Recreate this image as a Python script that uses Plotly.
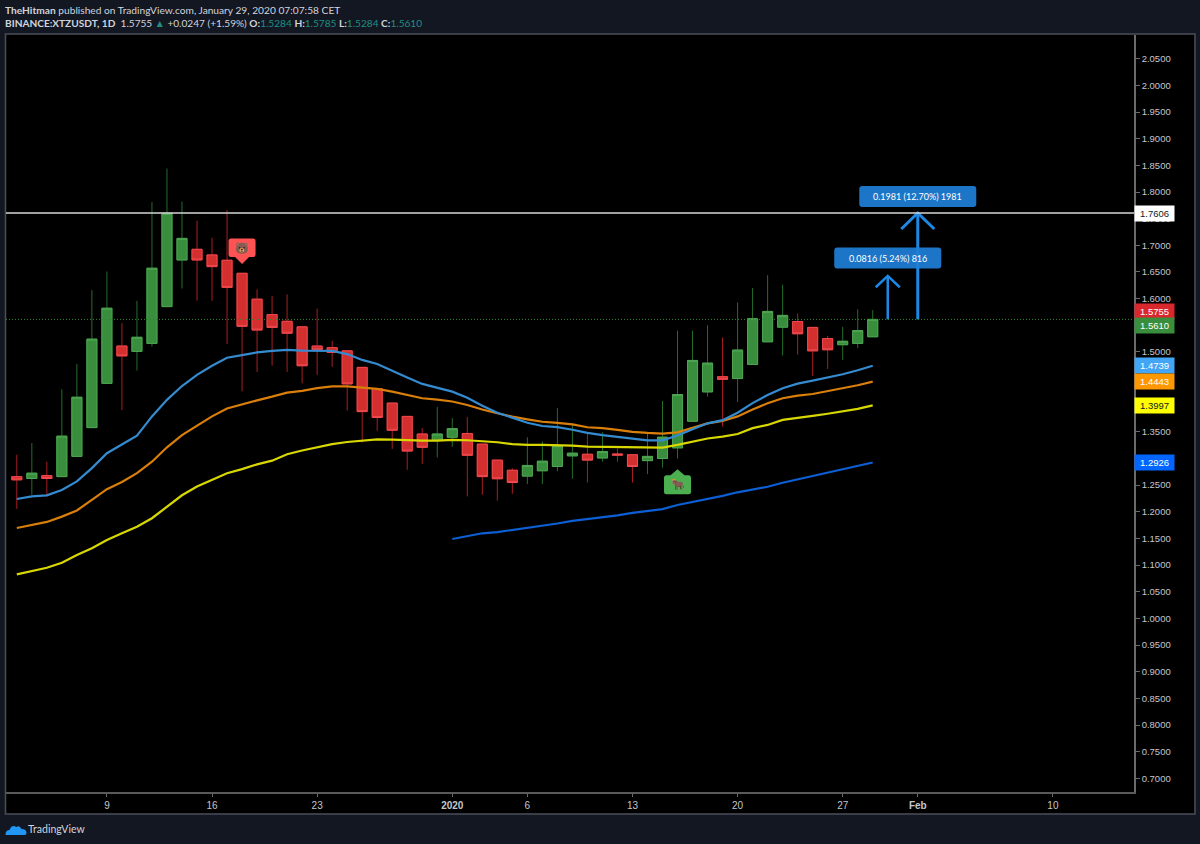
import numpy as np
import pandas as pd
import plotly.graph_objects as go

dates = pd.date_range("2019-12-03", periods=58)

opens = [1.266,1.2625,1.268,1.266,1.304,1.358,1.441,1.511,1.501,1.516,1.585,1.6725,1.6925,1.682,1.672,1.6475,1.599,1.57,1.5575,
         1.547,1.511,1.508,1.502,1.471,1.431,1.404,1.379,1.346,1.334,1.34,1.347,1.327,1.297,1.278,1.267,1.277,1.285,1.305,
         1.308,1.301,1.3085,1.307,1.296,1.30,1.32,1.37,1.425,1.4535,1.45,1.4765,1.519,1.5465,1.557,1.546,1.525,1.5135,1.516,1.5284]
highs = [1.307,1.329,1.294,1.43,1.4775,1.616,1.651,1.554,1.596,1.781,1.844,1.782,1.746,1.714,1.766,1.6475,1.6175,1.605,1.608,
         1.549,1.581,1.521,1.502,1.471,1.431,1.404,1.379,1.357,1.397,1.376,1.378,1.327,1.297,1.282,1.34,1.332,1.395,1.366,
         1.349,1.349,1.319,1.307,1.347,1.408,1.54,1.54,1.55,1.527,1.593,1.62,1.644,1.626,1.572,1.546,1.53,1.547,1.58,1.5785]
lows = [1.2056,1.232,1.229,1.266,1.304,1.358,1.441,1.391,1.465,1.51,1.585,1.619,1.596,1.596,1.515,1.426,1.4625,1.474,1.4625,
        1.441,1.457,1.472,1.39,1.33,1.352,1.318,1.279,1.29,1.302,1.322,1.229,1.232,1.221,1.234,1.252,1.252,1.276,1.262,
        1.255,1.294,1.294,1.255,1.271,1.283,1.30,1.37,1.416,1.36,1.406,1.4765,1.518,1.4935,1.495,1.455,1.468,1.485,1.507,1.5284]
closes = [1.26,1.2725,1.2625,1.342,1.415,1.524,1.582,1.4925,1.5275,1.657,1.76,1.713,1.6725,1.66,1.621,1.548,1.541,1.546,1.535,
          1.474,1.504,1.499,1.44,1.388,1.377,1.353,1.314,1.321,1.346,1.356,1.306,1.266,1.262,1.255,1.287,1.295,1.324,1.31,
          1.297,1.313,1.3065,1.285,1.304,1.34,1.42,1.484,1.479,1.4485,1.5035,1.5624,1.576,1.5685,1.534,1.502,1.504,1.52,1.54,1.561]

ema_blue = [1.224,1.229,1.231,1.241,1.257,1.282,1.31,1.326,1.343,1.379,1.41,1.436,1.457,1.474,1.489,1.494,1.499,1.502,1.504,
            1.5024,1.502,1.502,1.496,1.485,1.4774,1.464,1.452,1.44,1.433,1.4255,1.414,1.399,1.386,1.377,1.367,1.361,1.359,1.354,
            1.348,1.344,1.341,1.337,1.334,1.334,1.343,1.355,1.366,1.372,1.386,1.404,1.419,1.432,1.4405,1.446,1.452,1.458,1.4655,1.4739]
ema_orange = [1.1696,1.175,1.181,1.191,1.2025,1.2225,1.2425,1.256,1.2725,1.294,1.321,1.344,1.362,1.379,1.394,1.402,1.409,1.416,1.4237,
              1.427,1.432,1.4355,1.4355,1.433,1.4305,1.4255,1.419,1.413,1.4105,1.407,1.4005,1.392,1.385,1.3785,1.3735,1.369,1.367,1.364,
              1.3586,1.357,1.3536,1.35,1.348,1.3468,1.349,1.358,1.366,1.3705,1.379,1.392,1.4036,1.413,1.418,1.421,1.426,1.432,1.4374,1.4443]
ema_yellow = [1.0827,1.089,1.095,1.1045,1.119,1.1315,1.147,1.1597,1.172,1.188,1.21,1.231,1.2475,1.26,1.2725,1.28,1.289,1.296,1.308,
              1.315,1.3205,1.327,1.331,1.333,1.336,1.3355,1.334,1.3336,1.3336,1.335,1.3343,1.333,1.3305,1.327,1.3255,1.3255,1.325,1.3243,
              1.3224,1.3218,1.321,1.3205,1.3205,1.3205,1.3255,1.332,1.3375,1.341,1.346,1.357,1.363,1.3724,1.3755,1.38,1.384,1.388,1.393,1.3997]
ema_deep = [1.149,1.1546,1.1597,1.162,1.166,1.169,1.174,1.178,1.183,1.186,1.189,1.1934,1.198,1.2015,1.205,
            1.2127,1.218,1.224,1.23,1.2366,1.242,1.247,1.2546,1.261,1.267,1.2728,1.28,1.2865,1.2926]

tick_dates = ["2019-12-09","2019-12-16","2019-12-23","2020-01-01","2020-01-06","2020-01-13","2020-01-20","2020-01-27","2020-02-01","2020-02-10"]
tick_text = ["9","16","23","<b>2020</b>","6","13","20","27","<b>Feb</b>","10"]
# y ticks; those that the value tags cover in the reference are left out
price_ticks = [2.05,2.0,1.95,1.9,1.85,1.8,1.75,1.7,1.65,1.6,1.5,1.35,1.25,1.2,1.15,1.1,1.05,1.0,0.95,0.9,0.85,0.8,0.75,0.7]

resistance = 1.7606
last_close = 1.5610
axis_labels = [1.7606, 1.5755, 1.5610, 1.4739, 1.4443, 1.3997, 1.2926]
axis_label_bg = ["#ffffff", "#d9272e", "#388e3c", "#42a5f5", "#ff9800", "#ffff00", "#0066ff"]
axis_label_fg = ["#131722", "#ffffff", "#ffffff", "#ffffff", "#ffffff", "#131722", "#ffffff"]
axis_label_shift = [0, 0, -6, 0, 0, 0, 0]

arrow_dates = ["2020-01-30", "2020-02-01"]
arrow_tips = [1.6426, 1.7606]
arrow_text = ["0.0816 (5.24%) 816", "0.1981 (12.70%) 1981"]
arrow_label_y = [1.6762, 1.7916]

W, H = 1200, 844
L, R, T, B = 5.5, 1134, 35, 792
pw, ph = R - L, B - T
def px(v): return (v - L) / pw
def py(v): return (B - v) / ph

FONT = "Lato, Noto Sans, sans-serif"
AXF = "Liberation Sans, sans-serif"

fig = go.Figure()

# moving averages, below the candles
for vals, col, d in [(ema_yellow, "#d8d800", dates), (ema_orange, "#d97f0a", dates),
                     (ema_blue, "#358bd0", dates), (ema_deep, "#0c5fd4", dates[29:])]:
    fig.add_trace(go.Scatter(x=d, y=vals, mode="lines", line=dict(color=col, width=2.2), hoverinfo="skip"))

# wicks
fig.add_trace(go.Candlestick(x=dates, open=opens, high=highs, low=lows, close=closes,
    increasing=dict(line=dict(color="#256d2a", width=1), fillcolor="#388e3c"),
    decreasing=dict(line=dict(color="#a81e22", width=1), fillcolor="#d32f2f"),
    whiskerwidth=0, hoverinfo="skip"))
# bodies with lighter border
top = np.maximum(opens, closes)
bot = np.minimum(opens, closes)
fig.add_trace(go.Candlestick(x=dates, open=opens, high=top, low=bot, close=closes,
    increasing=dict(line=dict(color="#4fa553", width=1), fillcolor="#388e3c"),
    decreasing=dict(line=dict(color="#ee4a4f", width=1), fillcolor="#d32f2f"),
    hoverinfo="skip"))

# arrows
for i, (d, tip) in enumerate(zip(arrow_dates, arrow_tips)):
    t = pd.Timestamp(d)
    hw = pd.Timedelta(days=[0.8, 1.1][i])
    drop = [0.0213, 0.03][i]
    w = [2.5, 3][i]
    fig.add_trace(go.Scatter(x=[t, t], y=[last_close, tip], mode="lines",
                             line=dict(color="#1e88e5", width=w), hoverinfo="skip"))
    fig.add_trace(go.Scatter(x=[t - hw, t, t + hw], y=[tip - drop, tip, tip - drop], mode="lines",
                             line=dict(color="#1e88e5", width=w), hoverinfo="skip"))

def round_rect(x0, x1, y0, y1, r):
    return (f"M{x0+r},{y0} L{x1-r},{y0} Q{x1},{y0} {x1},{y0+r} L{x1},{y1-r} Q{x1},{y1} {x1-r},{y1} "
            f"L{x0+r},{y1} Q{x0},{y1} {x0},{y1-r} L{x0},{y0+r} Q{x0},{y0} {x0+r},{y0} Z")

shapes = [
    # black frame area
    dict(type="rect", xref="paper", yref="paper", x0=px(5), x1=px(1195), y0=py(814), y1=py(34),
         fillcolor="#000000", line=dict(color="#4b4f5a", width=1.5), layer="below"),
    dict(type="line", xref="paper", yref="y", x0=0, x1=1, y0=resistance, y1=resistance,
         line=dict(color="#d6d6d6", width=1.5)),
    dict(type="line", xref="paper", yref="y", x0=0, x1=1, y0=last_close, y1=last_close,
         line=dict(color="#2e8b33", width=1, dash="1px,2px")),
]
# callout boxes
widths = [107, 117]
for d, y, w in zip(arrow_dates, arrow_label_y, widths):
    shapes.append(dict(type="path", xsizemode="pixel", ysizemode="pixel", xref="x", yref="y",
                       xanchor=d, yanchor=y, path=round_rect(-w/2, w/2, -10.5, 10.5, 3),
                       fillcolor="#1e7fd8", opacity=0.92, line=dict(width=0)))
# signal badges
shapes.append(dict(type="path", xsizemode="pixel", ysizemode="pixel", xref="x", yref="y",
                   xanchor="2019-12-18", yanchor=1.665,
                   path="M0,0 L-7,7 L-11,7 Q-13.5,7 -13.5,9.5 L-13.5,23 Q-13.5,25.5 -11,25.5 L11,25.5 Q13.5,25.5 13.5,23 L13.5,9.5 Q13.5,7 11,7 L7,7 Z",
                   fillcolor="#ff5252", line=dict(width=0)))
shapes.append(dict(type="path", xsizemode="pixel", ysizemode="pixel", xref="x", yref="y",
                   xanchor="2020-01-16", yanchor=1.28,
                   path="M0,0 L7,-6 L11,-6 Q13.5,-6 13.5,-8.5 L13.5,-22.5 Q13.5,-25 11,-25 L-11,-25 Q-13.5,-25 -13.5,-22.5 L-13.5,-8.5 Q-13.5,-6 -11,-6 L-7,-6 Z",
                   fillcolor="#4caf50", line=dict(width=0)))
# logo cloud
shapes.append(dict(type="path", xref="paper", yref="paper", xsizemode="pixel", ysizemode="pixel",
                   xanchor=px(5), yanchor=py(835),
                   path="M0,0 Q0,5 4,5 Q6,11 11,8 Q14,10 16,6 Q21,6 21,2 Q21,0 19,0 Z",
                   fillcolor="#2196f3", line=dict(width=0)))

anns = []
for v, bg, fg, sh in zip(axis_labels, axis_label_bg, axis_label_fg, axis_label_shift):
    anns.append(dict(xref="paper", yref="y", x=1, y=v, xanchor="left", yanchor="middle", yshift=sh,
                     text=f"{v:.4f}", showarrow=False, bgcolor=bg, width=39, height=14.5, borderpad=0,
                     align="center", font=dict(family=AXF, size=9.5, color=fg)))
for d, y, t in zip(arrow_dates, arrow_label_y, arrow_text):
    anns.append(dict(xref="x", yref="y", x=d, y=y, text=t, showarrow=False,
                     font=dict(family=FONT, size=9, color="#ffffff")))
anns.append(dict(xref="x", yref="y", x="2019-12-18", y=1.665, yshift=16, text="🐻", showarrow=False,
                 font=dict(size=11)))
anns.append(dict(xref="x", yref="y", x="2020-01-16", y=1.28, yshift=-15, text="🐂", showarrow=False,
                 font=dict(size=11)))
G = "#1f8f84"
anns.append(dict(xref="paper", yref="paper", x=px(2.5), y=py(10), xanchor="left", yanchor="middle", showarrow=False,
                 text="<b>TheHitman</b> published on TradingView.com, January 29, 2020 07:07:58 CET",
                 font=dict(family=FONT, size=10.2, color="#d1d4dc")))
anns.append(dict(xref="paper", yref="paper", x=px(2.5), y=py(23.5), xanchor="left", yanchor="middle", showarrow=False,
                 text=(f"<b>BINANCE:XTZUSDT, 1D</b>  1.5755 <span style='color:{G}'>▲</span> +0.0247 (+1.59%) "
                       f"<b>O:</b><span style='color:{G}'>1.5284</span> <b>H:</b><span style='color:{G}'>1.5785</span> "
                       f"<b>L:</b><span style='color:{G}'>1.5284</span> <b>C:</b><span style='color:{G}'>1.5610</span>"),
                 font=dict(family=FONT, size=10.1, color="#d1d4dc")))
anns.append(dict(xref="paper", yref="paper", x=px(26), y=py(829), xanchor="left", yanchor="middle", showarrow=False,
                 text="TradingView", font=dict(family=FONT, size=10.5, color="#d1d4dc")))

fig.update_layout(
    width=W, height=H, autosize=False, showlegend=False,
    margin=dict(l=L, r=W - R, t=T, b=H - B, pad=0),
    paper_bgcolor="#131722", plot_bgcolor="#000000",
    boxgap=0.33, boxgroupgap=0, shapes=shapes, annotations=anns,
    font=dict(family=AXF, size=10, color="#b2b5be"),
    xaxis=dict(type="date", range=["2019-12-02 06:43", "2020-02-15 09:36"], rangeslider=dict(visible=False),
               tickmode="array", tickvals=tick_dates, ticktext=tick_text, showgrid=False, zeroline=False,
               ticks="outside", ticklen=3, tickcolor="#6b6b6b", showline=True, linecolor="#5a5a5a", linewidth=1.5,
               tickangle=0, tickfont=dict(family=AXF, size=10, color="#c4c6cc")),
    yaxis=dict(side="right", range=[0.6743, 2.0946], tickmode="array", tickvals=price_ticks,
               ticktext=[f"{v:.4f}" for v in price_ticks], showgrid=False,
               zeroline=False, ticks="outside", ticklen=4, tickcolor="#6b6b6b", showline=True, linecolor="#6b6b6b",
               linewidth=1.5, tickfont=dict(family=AXF, size=9.5, color="#c4c6cc")),
)

fig.write_html("out.html", config={"displayModeBar": False},
               post_script="document.body.style.margin='0';document.body.style.overflow='hidden';")
